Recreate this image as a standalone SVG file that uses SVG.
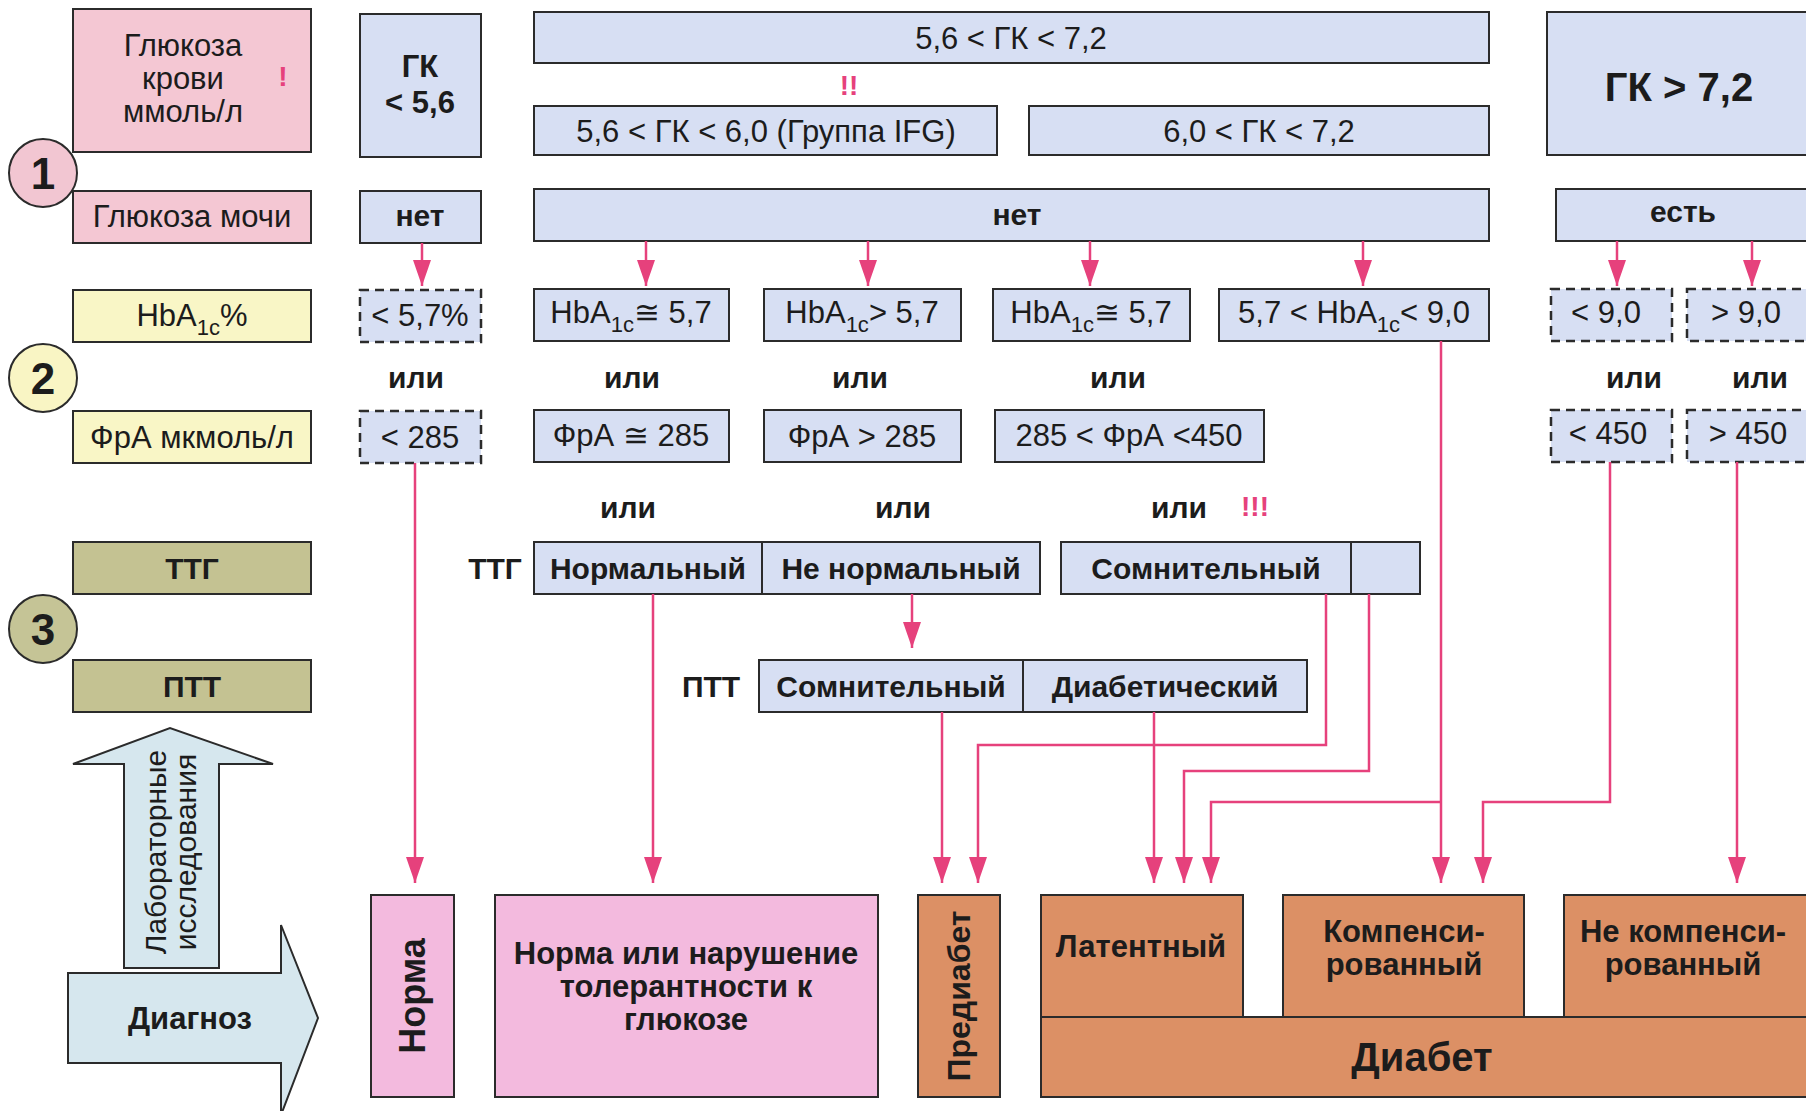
<svg xmlns="http://www.w3.org/2000/svg" width="1806" height="1111" viewBox="0 0 1806 1111">
<style>
.bx{fill:#d7dff3;stroke:#2b2b2b;stroke-width:2}
.pk{fill:#f4c7d3;stroke:#2b2b2b;stroke-width:2}
.yl{fill:#f9f6c6;stroke:#2b2b2b;stroke-width:2}
.ol{fill:#c4c292;stroke:#2b2b2b;stroke-width:2}
.ds{fill:#d7dff3;stroke:#2b2b2b;stroke-width:2.5;stroke-dasharray:9 6}
.rp{fill:#f3bade;stroke:#2b2b2b;stroke-width:2}
.rb{fill:#dc9065;stroke:#2b2b2b;stroke-width:2}
.ar{fill:#d6e7ee;stroke:#2b2b2b;stroke-width:2}
.t{font-family:"Liberation Sans",Arial,sans-serif;font-size:31px;fill:#1c1c1c;text-anchor:middle}
.b{font-weight:bold;font-size:30px}
.ex{font-family:"Liberation Sans",Arial,sans-serif;font-weight:bold;fill:#e6417c;text-anchor:middle;font-size:28px}
.c{stroke:#e6417c;stroke-width:2.5;fill:none}
.ca{stroke:#e6417c;stroke-width:2.5;fill:none;marker-end:url(#ah)}
</style>
<defs>
<marker id="ah" markerUnits="userSpaceOnUse" markerWidth="26" markerHeight="18" refX="26" refY="9" orient="auto"><path d="M0,0 L26,9 L0,18 z" fill="#e6417c"/></marker>
</defs>
<rect width="1806" height="1111" fill="#ffffff"/>

<!-- left arrows -->
<g id="arrow-lab">
<path class="ar" d="M124,968 L124,764 L73,764 L170,728 L273,764 L219,764 L219,968 Z"/>
<text class="t" style="font-size:30px" transform="translate(166,852) rotate(-90)">Лабораторные</text>
<text class="t" style="font-size:30px" transform="translate(196,852) rotate(-90)">исследования</text>
</g>
<g id="arrow-diag">
<path class="ar" d="M68,973 L281,973 L281,925 L318,1018 L281,1115 L281,1063 L68,1063 Z"/>
<text class="t b" style="font-size:31px" x="190" y="1029">Диагноз</text>
</g>

<!-- row 1 -->
<g id="lbl-glucose-blood">
<rect class="pk" x="73" y="9" width="238" height="143"/>
<text class="t" x="183" y="56">Глюкоза</text>
<text class="t" x="183" y="89">крови</text>
<text class="t" x="183" y="122">ммоль/л</text>
<text class="ex" x="283" y="86">!</text>
</g>
<g id="gk-lt-56">
<rect class="bx" x="360" y="14" width="121" height="143"/>
<text class="t b" style="font-size:31px" x="420" y="77">ГК</text>
<text class="t b" style="font-size:31px" x="420" y="113">&lt; 5,6</text>
</g>
<g id="gk-56-72">
<rect class="bx" x="534" y="12" width="955" height="51"/>
<text class="t" x="1011" y="49">5,6 &lt; ГК &lt; 7,2</text>
</g>
<text class="ex" x="849" y="95">!!</text>
<g id="gk-56-60">
<rect class="bx" x="534" y="106" width="463" height="49"/>
<text class="t" x="766" y="142">5,6 &lt; ГК &lt; 6,0 (Группа IFG)</text>
</g>
<g id="gk-60-72">
<rect class="bx" x="1029" y="106" width="460" height="49"/>
<text class="t" x="1259" y="142">6,0 &lt; ГК &lt; 7,2</text>
</g>
<g id="gk-gt-72">
<rect class="bx" x="1547" y="12" width="270" height="143"/>
<text class="t b" style="font-size:40px" x="1679" y="101">ГК &gt; 7,2</text>
</g>

<!-- row urine -->
<g id="lbl-glucose-urine">
<rect class="pk" x="73" y="191" width="238" height="52"/>
<text class="t" x="192" y="227">Глюкоза мочи</text>
</g>
<g id="urine-no-1">
<rect class="bx" x="360" y="191" width="121" height="52"/>
<text class="t b" x="420" y="226">нет</text>
</g>
<g id="urine-no-2">
<rect class="bx" x="534" y="189" width="955" height="52"/>
<text class="t b" x="1017" y="225">нет</text>
</g>
<g id="urine-yes">
<rect class="bx" x="1556" y="189" width="260" height="52"/>
<text class="t b" x="1683" y="222">есть</text>
</g>

<!-- HbA row -->
<g id="lbl-hba">
<rect class="yl" x="73" y="290" width="238" height="52"/>
<text class="t" x="192" y="326">HbA<tspan font-size="22" dy="9">1c</tspan><tspan dy="-9">%</tspan></text>
</g>
<g id="hba-lt-57">
<rect class="ds" x="360" y="290" width="121" height="52"/>
<text class="t" x="420" y="326">&lt; 5,7%</text>
</g>
<g id="hba-eq-57-a">
<rect class="bx" x="534" y="289" width="195" height="52"/>
<text class="t" x="631" y="323">HbA<tspan font-size="22" dy="9">1c</tspan><tspan dy="-9">≅ 5,7</tspan></text>
</g>
<g id="hba-gt-57">
<rect class="bx" x="764" y="289" width="197" height="52"/>
<text class="t" x="862" y="323">HbA<tspan font-size="22" dy="9">1c</tspan><tspan dy="-9">&gt; 5,7</tspan></text>
</g>
<g id="hba-eq-57-b">
<rect class="bx" x="993" y="289" width="197" height="52"/>
<text class="t" x="1091" y="323">HbA<tspan font-size="22" dy="9">1c</tspan><tspan dy="-9">≅ 5,7</tspan></text>
</g>
<g id="hba-57-90">
<rect class="bx" x="1219" y="289" width="270" height="52"/>
<text class="t" x="1354" y="323">5,7 &lt; HbA<tspan font-size="22" dy="9">1c</tspan><tspan dy="-9">&lt; 9,0</tspan></text>
</g>
<g id="hba-lt-90">
<rect class="ds" x="1551" y="289" width="121" height="52"/>
<text class="t" x="1606" y="323">&lt; 9,0</text>
</g>
<g id="hba-gt-90">
<rect class="ds" x="1687" y="289" width="130" height="52"/>
<text class="t" x="1746" y="323">&gt; 9,0</text>
</g>

<!-- или row 1 -->
<g class="t b">
<text x="416" y="388">или</text>
<text x="632" y="388">или</text>
<text x="860" y="388">или</text>
<text x="1118" y="388">или</text>
<text x="1634" y="388">или</text>
<text x="1760" y="388">или</text>
</g>

<!-- ФрА row -->
<g id="lbl-fra">
<rect class="yl" x="73" y="411" width="238" height="52"/>
<text class="t" x="192" y="448">ФрА мкмоль/л</text>
</g>
<g id="fra-lt-285">
<rect class="ds" x="360" y="411" width="121" height="52"/>
<text class="t" x="420" y="448">&lt; 285</text>
</g>
<g id="fra-eq-285">
<rect class="bx" x="534" y="410" width="195" height="52"/>
<text class="t" x="631" y="446">ФрА ≅ 285</text>
</g>
<g id="fra-gt-285">
<rect class="bx" x="764" y="410" width="197" height="52"/>
<text class="t" x="862" y="447">ФрА &gt; 285</text>
</g>
<g id="fra-285-450">
<rect class="bx" x="995" y="410" width="269" height="52"/>
<text class="t" x="1129" y="446">285 &lt; ФрА &lt;450</text>
</g>
<g id="fra-lt-450">
<rect class="ds" x="1551" y="410" width="121" height="52"/>
<text class="t" x="1608" y="444">&lt; 450</text>
</g>
<g id="fra-gt-450">
<rect class="ds" x="1687" y="410" width="130" height="52"/>
<text class="t" x="1748" y="444">&gt; 450</text>
</g>

<!-- или row 2 -->
<g class="t b">
<text x="628" y="518">или</text>
<text x="903" y="518">или</text>
<text x="1179" y="518">или</text>
</g>
<text class="ex" x="1255" y="516">!!!</text>

<!-- ТТГ row -->
<g id="lbl-ttg">
<rect class="ol" x="73" y="542" width="238" height="52"/>
<text class="t b" x="192" y="579">ТТГ</text>
</g>
<text class="t b" x="495" y="579">ТТГ</text>
<g id="ttg-normal">
<rect class="bx" x="534" y="542" width="228" height="52"/>
<text class="t b" x="648" y="579">Нормальный</text>
</g>
<g id="ttg-abnormal">
<rect class="bx" x="762" y="542" width="278" height="52"/>
<text class="t b" x="901" y="579">Не нормальный</text>
</g>
<g id="ttg-doubt">
<rect class="bx" x="1061" y="542" width="290" height="52"/>
<text class="t b" x="1206" y="579">Сомнительный</text>
</g>
<g id="ttg-blank">
<rect class="bx" x="1351" y="542" width="69" height="52"/>
</g>

<!-- ПТТ row -->
<g id="lbl-ptt">
<rect class="ol" x="73" y="660" width="238" height="52"/>
<text class="t b" x="192" y="697">ПТТ</text>
</g>
<text class="t b" x="711" y="697">ПТТ</text>
<g id="ptt-doubt">
<rect class="bx" x="759" y="660" width="264" height="52"/>
<text class="t b" x="891" y="697">Сомнительный</text>
</g>
<g id="ptt-diab">
<rect class="bx" x="1023" y="660" width="284" height="52"/>
<text class="t b" x="1165" y="697">Диабетический</text>
</g>

<!-- outcomes -->
<g id="res-norma">
<rect class="rp" x="371" y="895" width="83" height="202"/>
<text class="t b" style="font-size:36px" transform="translate(425,996) rotate(-90)">Норма</text>
</g>
<g id="res-norma-ntg">
<rect class="rp" x="495" y="895" width="383" height="202"/>
<text class="t b" style="font-size:31px" x="686" y="964">Норма или нарушение</text>
<text class="t b" style="font-size:31px" x="686" y="997">толерантности к</text>
<text class="t b" style="font-size:31px" x="686" y="1030">глюкозе</text>
</g>
<g id="res-prediab">
<rect class="rb" x="918" y="895" width="82" height="202"/>
<text class="t b" style="font-size:32px" transform="translate(970,996) rotate(-90)">Предиабет</text>
</g>
<g id="res-diabetes">
<rect class="rb" x="1041" y="1017" width="775" height="80"/>
<text class="t b" style="font-size:40px" x="1422" y="1071">Диабет</text>
</g>
<g id="res-latent">
<rect class="rb" x="1041" y="895" width="202" height="122"/>
<text class="t b" style="font-size:31px" x="1141" y="957">Латентный</text>
</g>
<g id="res-comp">
<rect class="rb" x="1283" y="895" width="241" height="122"/>
<text class="t b" style="font-size:31px" x="1404" y="942">Компенси-</text>
<text class="t b" style="font-size:31px" x="1404" y="975">рованный</text>
</g>
<g id="res-uncomp">
<rect class="rb" x="1564" y="895" width="252" height="122"/>
<text class="t b" style="font-size:31px" x="1683" y="942">Не компенси-</text>
<text class="t b" style="font-size:31px" x="1683" y="975">рованный</text>
</g>

<!-- circles -->
<g id="step-1"><circle cx="43" cy="173" r="34" fill="#f2c6d2" stroke="#2b2b2b" stroke-width="2"/><text class="t b" style="font-size:44px" x="43" y="189">1</text></g>
<g id="step-2"><circle cx="43" cy="378" r="34" fill="#f9f5c4" stroke="#2b2b2b" stroke-width="2"/><text class="t b" style="font-size:44px" x="43" y="394">2</text></g>
<g id="step-3"><circle cx="43" cy="629" r="34" fill="#c5c496" stroke="#2b2b2b" stroke-width="2"/><text class="t b" style="font-size:44px" x="43" y="645">3</text></g>

<!-- connectors -->
<g id="connectors">
<path class="ca" d="M422,243 V286"/>
<path class="ca" d="M646,241 V286"/>
<path class="ca" d="M868,241 V286"/>
<path class="ca" d="M1090,241 V286"/>
<path class="ca" d="M1363,241 V286"/>
<path class="ca" d="M1617,241 V286"/>
<path class="ca" d="M1752,241 V286"/>
<path class="ca" d="M912,594 V648"/>
<path class="ca" d="M415,463 V883"/>
<path class="ca" d="M653,594 V883"/>
<path class="ca" d="M942,712 V883"/>
<path class="ca" d="M1326,594 V745 H978 V883"/>
<path class="ca" d="M1154,712 V883"/>
<path class="ca" d="M1369,594 V771 H1184 V883"/>
<path class="ca" d="M1441,341 V883"/>
<path class="ca" d="M1441,802 H1211 V883"/>
<path class="ca" d="M1610,462 V802 H1483 V883"/>
<path class="ca" d="M1737,462 V883"/>
</g>
</svg>
